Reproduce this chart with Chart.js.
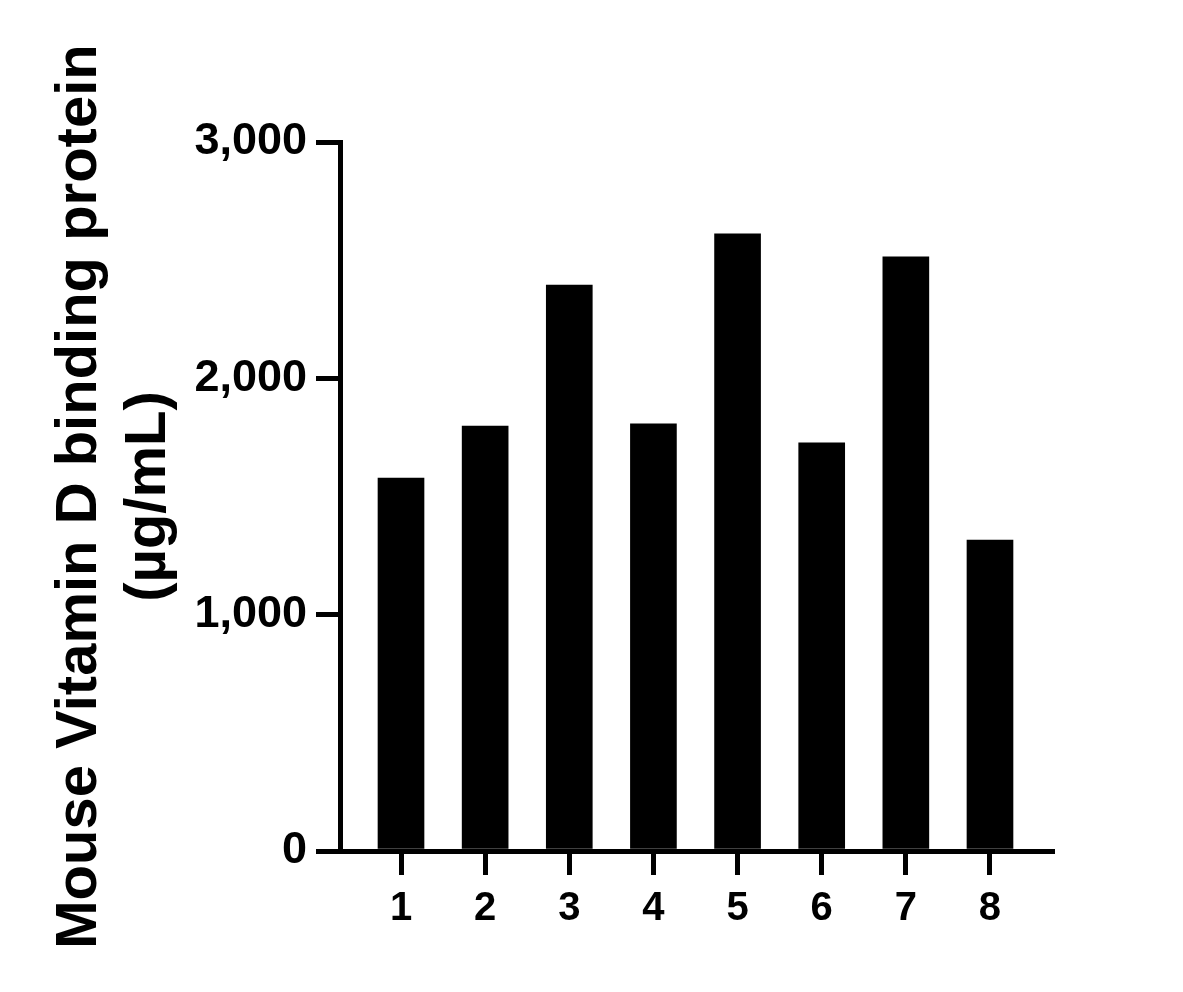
<!DOCTYPE html>
<html>
<head>
<meta charset="utf-8">
<script src="https://cdn.jsdelivr.net/npm/chart.js@4/dist/chart.umd.min.js"></script>
<style>
  body { margin: 0; background: #fff; }
</style>
</head>
<body>
<canvas id="vdbpChart" width="1183" height="992"></canvas>
<script>
// Sample data
var categories = ['1', '2', '3', '4', '5', '6', '7', '8'];
var values = [1578, 1798, 2395, 1807, 2611, 1727, 2514, 1316];
var yTicks = [0, 1000, 2000, 3000];
var yTitle = ['Mouse Vitamin D binding protein', '(\u00b5g/mL)'];

var font = 'Liberation Sans, Arial, sans-serif';

var ctx = document.getElementById('vdbpChart').getContext('2d');
var vdbpChart = new Chart(ctx, {
    type: 'bar',
    data: {
        datasets: [{
            data: categories.map(function (c, i) { return { x: Number(c), y: values[i] }; }),
            backgroundColor: '#000',
            borderWidth: 0,
            barThickness: 46
        }]
    },
    options: {
        responsive: false,
        devicePixelRatio: 1,
        animation: false,
        layout: { padding: { left: 0, right: 131, top: 142, bottom: 0 } },
        plugins: {
            legend: { display: false },
            tooltip: { enabled: false }
        },
        scales: {
            x: {
                type: 'linear',
                offset: false,
                min: 0.275,
                max: 8.737,
                afterBuildTicks: function (scale) {
                    scale.ticks = categories.map(function (c) { return { value: Number(c) }; });
                },
                afterFit: function (scale) { scale.height = 141; },
                border: { display: true, color: '#000', width: 5 },
                grid: { offset: false, drawOnChartArea: false, drawTicks: true, tickLength: 24, lineWidth: 5, color: '#000' },
                ticks: {
                    color: '#000',
                    padding: 10,
                    maxRotation: 0,
                    font: { family: font, size: 40, weight: 'bold' },
                    callback: function (v) { return String(v); }
                }
            },
            y: {
                min: 0,
                max: 3000,
                afterBuildTicks: function (scale) {
                    scale.ticks = yTicks.map(function (v) { return { value: v }; });
                },
                afterFit: function (scale) { scale.width = 340; },
                border: { display: true, color: '#000', width: 5 },
                grid: { drawOnChartArea: false, drawTicks: true, tickLength: 24, lineWidth: 5, color: '#000' },
                ticks: {
                    color: '#000',
                    padding: 9,
                    font: { family: font, size: 45, weight: 'bold' },
                    callback: function (v) { return v.toLocaleString('en-US'); }
                },
                title: {
                    display: true,
                    text: yTitle,
                    color: '#000',
                    padding: { top: 45, bottom: 0 },
                    font: { family: font, size: 58, weight: 'bold', lineHeight: 1.2 }
                }
            }
        }
    }
});
</script>
</body>
</html>
